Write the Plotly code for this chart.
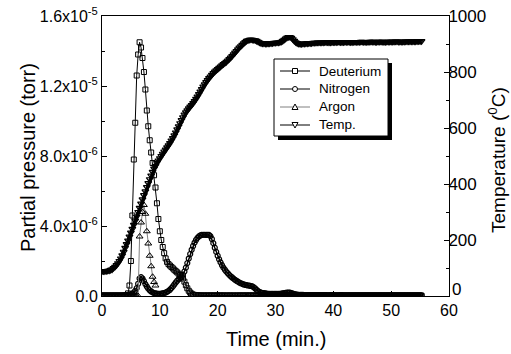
import numpy as np
import plotly.graph_objects as go

# ---------------- data ----------------
# common sampling grid, minutes
time_min = np.round(np.arange(0, 55.26, 0.25), 2)
argon_time = np.round(np.arange(0, 9.26, 0.25), 2)

# partial pressures in units of 1e-6 torr
deuterium = [
    0.01, 0.01, 0.01, 0.01, 0.01, 0.01, 0.01, 0.01,
    0.01, 0.01, 0.01, 0.01, 0.01, 0.01, 0.01, 0.02,
    0.02, 0.05, 0.15, 0.6, 2.0, 4.6, 7.8, 9.9,
    12.6, 13.8, 14.5, 14.2, 13.6, 12.8, 11.8, 10.6,
    9.7, 8.9, 8.2, 7.6, 6.9, 6.2, 5.3, 4.4,
    3.7, 3.2, 2.8, 2.45, 2.15, 1.95, 1.82, 1.74,
    1.66, 1.58, 1.5, 1.42, 1.35, 1.27, 1.2, 1.13,
    1.0, 0.82, 0.62, 0.44, 0.3, 0.2, 0.13, 0.08,
    0.06, 0.05, 0.04, 0.04, 0.03, 0.03, 0.03, 0.03,
    0.03, 0.03, 0.03, 0.03, 0.03, 0.03, 0.03, 0.03,
    0.03, 0.03, 0.03, 0.03, 0.03, 0.03, 0.02, 0.03,
    0.03, 0.03, 0.02, 0.03, 0.03, 0.02, 0.03, 0.03,
    0.03, 0.03, 0.03, 0.03, 0.03, 0.03, 0.03, 0.03,
    0.03, 0.03, 0.03, 0.02, 0.02, 0.03, 0.03, 0.02,
    0.02, 0.02, 0.03, 0.02, 0.02, 0.02, 0.03, 0.02,
    0.02, 0.02, 0.02, 0.03, 0.03, 0.03, 0.03, 0.03,
    0.03, 0.03, 0.03, 0.03, 0.02, 0.02, 0.02, 0.02,
    0.02, 0.02, 0.02, 0.02, 0.02, 0.02, 0.02, 0.02,
    0.02, 0.02, 0.02, 0.02, 0.02, 0.02, 0.02, 0.02,
    0.02, 0.02, 0.02, 0.02, 0.02, 0.02, 0.02, 0.02,
    0.02, 0.02, 0.02, 0.02, 0.02, 0.02, 0.02, 0.02,
    0.02, 0.02, 0.02, 0.02, 0.02, 0.02, 0.02, 0.02,
    0.02, 0.02, 0.02, 0.02, 0.02, 0.02, 0.02, 0.02,
    0.02, 0.02, 0.02, 0.02, 0.02, 0.02, 0.02, 0.02,
    0.02, 0.02, 0.02, 0.02, 0.02, 0.02, 0.02, 0.02,
    0.02, 0.02, 0.02, 0.02, 0.02, 0.02, 0.02, 0.02,
    0.02, 0.02, 0.02, 0.02, 0.02, 0.02, 0.02, 0.02,
    0.02, 0.02, 0.02, 0.02, 0.02, 0.02,
]

nitrogen = [
    0.04, 0.04, 0.04, 0.04, 0.04, 0.04, 0.04, 0.04,
    0.04, 0.04, 0.04, 0.04, 0.04, 0.04, 0.04, 0.04,
    0.04, 0.05, 0.06, 0.08, 0.1, 0.14, 0.2, 0.3,
    0.45, 0.7, 1.0, 1.08, 1.0, 0.85, 0.68, 0.54,
    0.42, 0.33, 0.26, 0.21, 0.17, 0.15, 0.14, 0.13,
    0.13, 0.14, 0.15, 0.17, 0.2, 0.24, 0.29, 0.36,
    0.45, 0.55, 0.66, 0.77, 0.87, 0.96, 1.03, 1.1,
    1.22, 1.4, 1.62, 1.88, 2.14, 2.4, 2.64, 2.86,
    3.05, 3.2, 3.32, 3.41, 3.46, 3.49, 3.5, 3.5,
    3.49, 3.5, 3.49, 3.42, 3.26, 3.02, 2.76, 2.52,
    2.3, 2.1, 1.92, 1.76, 1.62, 1.5, 1.39, 1.3,
    1.21, 1.13, 1.06, 0.99, 0.93, 0.87, 0.82, 0.77,
    0.73, 0.69, 0.66, 0.64, 0.62, 0.6, 0.59, 0.57,
    0.55, 0.5, 0.43, 0.35, 0.28, 0.23, 0.19, 0.17,
    0.16, 0.15, 0.14, 0.13, 0.13, 0.12, 0.12, 0.12,
    0.12, 0.12, 0.12, 0.13, 0.14, 0.15, 0.16, 0.18,
    0.19, 0.2, 0.19, 0.17, 0.14, 0.11, 0.09, 0.08,
    0.07, 0.06, 0.06, 0.06, 0.05, 0.05, 0.05, 0.05,
    0.05, 0.05, 0.05, 0.05, 0.05, 0.05, 0.05, 0.05,
    0.05, 0.05, 0.05, 0.05, 0.04, 0.04, 0.05, 0.05,
    0.05, 0.04, 0.04, 0.04, 0.04, 0.05, 0.05, 0.04,
    0.04, 0.04, 0.04, 0.04, 0.04, 0.04, 0.04, 0.04,
    0.04, 0.04, 0.04, 0.04, 0.04, 0.04, 0.04, 0.04,
    0.04, 0.04, 0.04, 0.04, 0.04, 0.04, 0.04, 0.04,
    0.04, 0.04, 0.04, 0.04, 0.04, 0.04, 0.04, 0.04,
    0.04, 0.04, 0.04, 0.04, 0.04, 0.04, 0.04, 0.04,
    0.04, 0.04, 0.04, 0.04, 0.04, 0.04, 0.04, 0.04,
    0.04, 0.04, 0.04, 0.04, 0.04, 0.04,
]

argon = [
    0.0, 0.0, 0.0, 0.0, 0.0, 0.0, 0.0, 0.0,
    0.0, 0.0, 0.0, 0.0, 0.0, 0.0, 0.0, 0.0,
    0.0, 0.0, 0.0, 0.0, 0.0, 0.0, 0.0, 0.0,
    0.0, 0.0, 3.4, 4.2, 4.8, 5.2, 4.7, 3.7,
    3.0, 2.3, 1.7, 1.1, 0.8, 0.6,
]

# temperature in deg C (right axis)
temperature = [
    88, 88, 88, 89, 90, 91, 93, 95,
    100, 104, 110, 117, 125, 134, 145, 158,
    172, 185, 198, 212, 226, 240, 254, 269,
    284, 300, 315, 330, 345, 360, 374, 389,
    403, 417, 430, 443, 455, 465, 475, 484,
    492, 500, 508, 516, 523, 531, 538, 546,
    555, 564, 574, 584, 595, 606, 617, 628,
    638, 648, 656, 663, 670, 676, 682, 689,
    696, 704, 712, 721, 730, 739, 748, 756,
    764, 771, 778, 784, 790, 796, 801, 806,
    810, 815, 819, 824, 828, 832, 836, 841,
    846, 851, 857, 863, 869, 875, 881, 887,
    892, 897, 902, 907, 911, 913, 915, 916,
    915, 914, 913, 911, 908, 905, 903, 902,
    902, 901, 901, 902, 902, 903, 903, 904,
    904, 905, 905, 906, 908, 911, 915, 919,
    923, 925, 925, 922, 917, 911, 906, 903,
    901, 900, 900, 901, 901, 902, 902, 903,
    903, 903, 904, 904, 904, 905, 905, 905,
    905, 905, 906, 906, 906, 905, 905, 906,
    906, 906, 906, 907, 907, 906, 906, 906,
    907, 907, 907, 907, 906, 906, 907, 907,
    907, 907, 907, 908, 908, 907, 907, 907,
    907, 908, 908, 908, 908, 907, 907, 908,
    908, 908, 908, 907, 907, 908, 908, 908,
    908, 908, 908, 909, 909, 908, 908, 908,
    908, 908, 909, 909, 909, 909, 909, 909,
    909, 909, 910, 910, 910, 910,
]

series_names = ["Deuterium", "Nitrogen", "Argon", "Temp."]
pressure_ticks = [0, 4e-6, 8e-6, 1.2e-5, 1.6e-5]
pressure_ticktext = ["0.0", "4.0x10<sup>-6</sup>", "8.0x10<sup>-6</sup>",
                     "1.2x10<sup>-5</sup>", "1.6x10<sup>-5</sup>"]
temp_ticks = [0, 200, 400, 600, 800, 1000]
temp_ticktext = ["", "200", "400", "600", "800", "1000"]  # "0" is placed just above the corner
PUNIT = 1e-6

# ---------------- figure ----------------
FONT = "Liberation Sans, Arial, sans-serif"
W, H = 511, 354
ML, MR, MT, MB = 102, 62, 16, 58
PW, PH = W - ML - MR, H - MT - MB


def px(xpix):
    return (xpix - ML) / PW


def py(ypix):
    return (MT + PH - ypix) / PH


fig = go.Figure()

fig.add_trace(go.Scatter(
    x=time_min, y=np.array(deuterium) * PUNIT, name=series_names[0],
    mode="lines+markers", showlegend=False,
    line=dict(color="black", width=1),
    marker=dict(symbol="square-open", size=5, color="black", line=dict(width=1)),
))
fig.add_trace(go.Scatter(
    x=time_min, y=np.array(nitrogen) * PUNIT, name=series_names[1],
    mode="lines+markers", showlegend=False,
    line=dict(color="black", width=1.5),
    marker=dict(symbol="circle-open", size=5, color="black", line=dict(width=1.2)),
))
fig.add_trace(go.Scatter(
    x=argon_time, y=np.array(argon) * PUNIT, name=series_names[2],
    mode="lines+markers", showlegend=False,
    line=dict(color="#808080", width=1),
    marker=dict(symbol="triangle-up-open", size=6, color="black", line=dict(width=1)),
))
fig.add_trace(go.Scatter(
    x=time_min, y=temperature, name=series_names[3], yaxis="y2",
    mode="lines+markers", showlegend=False,
    line=dict(color="black", width=3.5),
    marker=dict(symbol="triangle-down-open", size=6, color="black", line=dict(width=1.2)),
))

axis_common = dict(
    showgrid=False, zeroline=False, showline=True, linecolor="black", linewidth=1,
    ticks="inside", ticklen=5, tickwidth=1, tickcolor="black", automargin=False,
)

fig.update_layout(
    width=W, height=H,
    margin=dict(l=ML, r=MR, t=MT, b=MB, pad=0),
    paper_bgcolor="white", plot_bgcolor="white",
    font=dict(family=FONT, color="black"),
    showlegend=False,
    xaxis=dict(
        range=[0, 60], tickmode="linear", tick0=0, dtick=10, mirror=True,
        minor=dict(dtick=5, ticks="inside", ticklen=3, tickcolor="black"),
        tickfont=dict(family=FONT, size=16, color="black"),
        **axis_common,
    ),
    yaxis=dict(
        range=[0, 1.6e-5], tickmode="array", tickvals=pressure_ticks,
        ticktext=pressure_ticktext, mirror=False,
        minor=dict(tickvals=[2e-6, 6e-6, 1e-5, 1.4e-5], ticks="inside",
                   ticklen=3, tickcolor="black"),
        tickfont=dict(family=FONT, size=16, color="black"),
        **axis_common,
    ),
    yaxis2=dict(
        range=[0, 1000], overlaying="y", side="right", tickmode="array",
        tickvals=temp_ticks, ticktext=temp_ticktext, ticklabelstandoff=-5,
        minor=dict(dtick=100, ticks="inside", ticklen=3, tickcolor="black"),
        tickfont=dict(family=FONT, size=17, color="black"),
        **axis_common,
    ),
)

# lowest right-axis label, raised above the x-axis "60" as in the reference
fig.add_annotation(text="0", xref="paper", yref="paper", x=px(450), y=py(289),
                   xanchor="left", yanchor="middle", showarrow=False,
                   font=dict(family=FONT, size=17, color="black"))

# ---------------- legend (box with drop shadow, keys and labels) ----------------
LX0, LX1, LY0, LY1 = 274, 388, 59, 136
shapes = [
    dict(type="rect", xref="paper", yref="paper",
         x0=px(LX0 + 4), x1=px(LX1 + 4), y0=py(LY1 + 4), y1=py(LY0 + 4),
         fillcolor="black", line=dict(width=0), layer="above"),
    dict(type="rect", xref="paper", yref="paper",
         x0=px(LX0), x1=px(LX1), y0=py(LY1), y1=py(LY0),
         fillcolor="white", line=dict(color="black", width=1), layer="above"),
]
line_colors = ["black", "black", "#808080", "black"]
for i, name in enumerate(series_names):
    yc = 71 + 18 * i
    cx = 295
    shapes.append(dict(type="line", xref="paper", yref="paper",
                       x0=px(280), x1=px(310), y0=py(yc), y1=py(yc),
                       line=dict(color=line_colors[i], width=1), layer="above"))
    mk = dict(xref="paper", yref="paper", fillcolor="white",
              line=dict(color="black", width=1), layer="above")
    if i == 0:
        shapes.append(dict(type="rect", x0=px(cx - 2.5), x1=px(cx + 2.5),
                           y0=py(yc + 2.5), y1=py(yc - 2.5), **mk))
    elif i == 1:
        shapes.append(dict(type="circle", x0=px(cx - 2.5), x1=px(cx + 2.5),
                           y0=py(yc + 2.5), y1=py(yc - 2.5), **mk))
    elif i == 2:
        path = "M {} {} L {} {} L {} {} Z".format(
            px(cx - 3), py(yc + 2.5), px(cx + 3), py(yc + 2.5), px(cx), py(yc - 3))
        shapes.append(dict(type="path", path=path, **mk))
    else:
        path = "M {} {} L {} {} L {} {} Z".format(
            px(cx - 3), py(yc - 2.5), px(cx + 3), py(yc - 2.5), px(cx), py(yc + 3))
        shapes.append(dict(type="path", path=path, **mk))
    fig.add_annotation(text=name, xref="paper", yref="paper",
                       x=px(317), y=py(yc), xanchor="left", yanchor="middle",
                       showarrow=False,
                       font=dict(family=FONT, size=13.5, color="black"))
fig.update_layout(shapes=shapes)

# ---------------- axis titles ----------------
fig.add_annotation(text="Time (min.)", xref="paper", yref="paper",
                   x=0.5, y=py(339), showarrow=False,
                   font=dict(family=FONT, size=20, color="black"),
                   xanchor="center", yanchor="middle")
fig.add_annotation(text="Partial pressure (torr)", xref="paper", yref="paper",
                   x=px(28), y=py(158), showarrow=False,
                   textangle=-90, font=dict(family=FONT, size=20, color="black"),
                   xanchor="center", yanchor="middle")
fig.add_annotation(text="Temperature (<sup>0</sup>C)", xref="paper", yref="paper",
                   x=px(497), y=py(160), showarrow=False,
                   textangle=-90, font=dict(family=FONT, size=19, color="black"),
                   xanchor="center", yanchor="middle")

fig.write_html("out.html", config={"displayModeBar": False},
               post_script="document.body.style.margin='0px';")
